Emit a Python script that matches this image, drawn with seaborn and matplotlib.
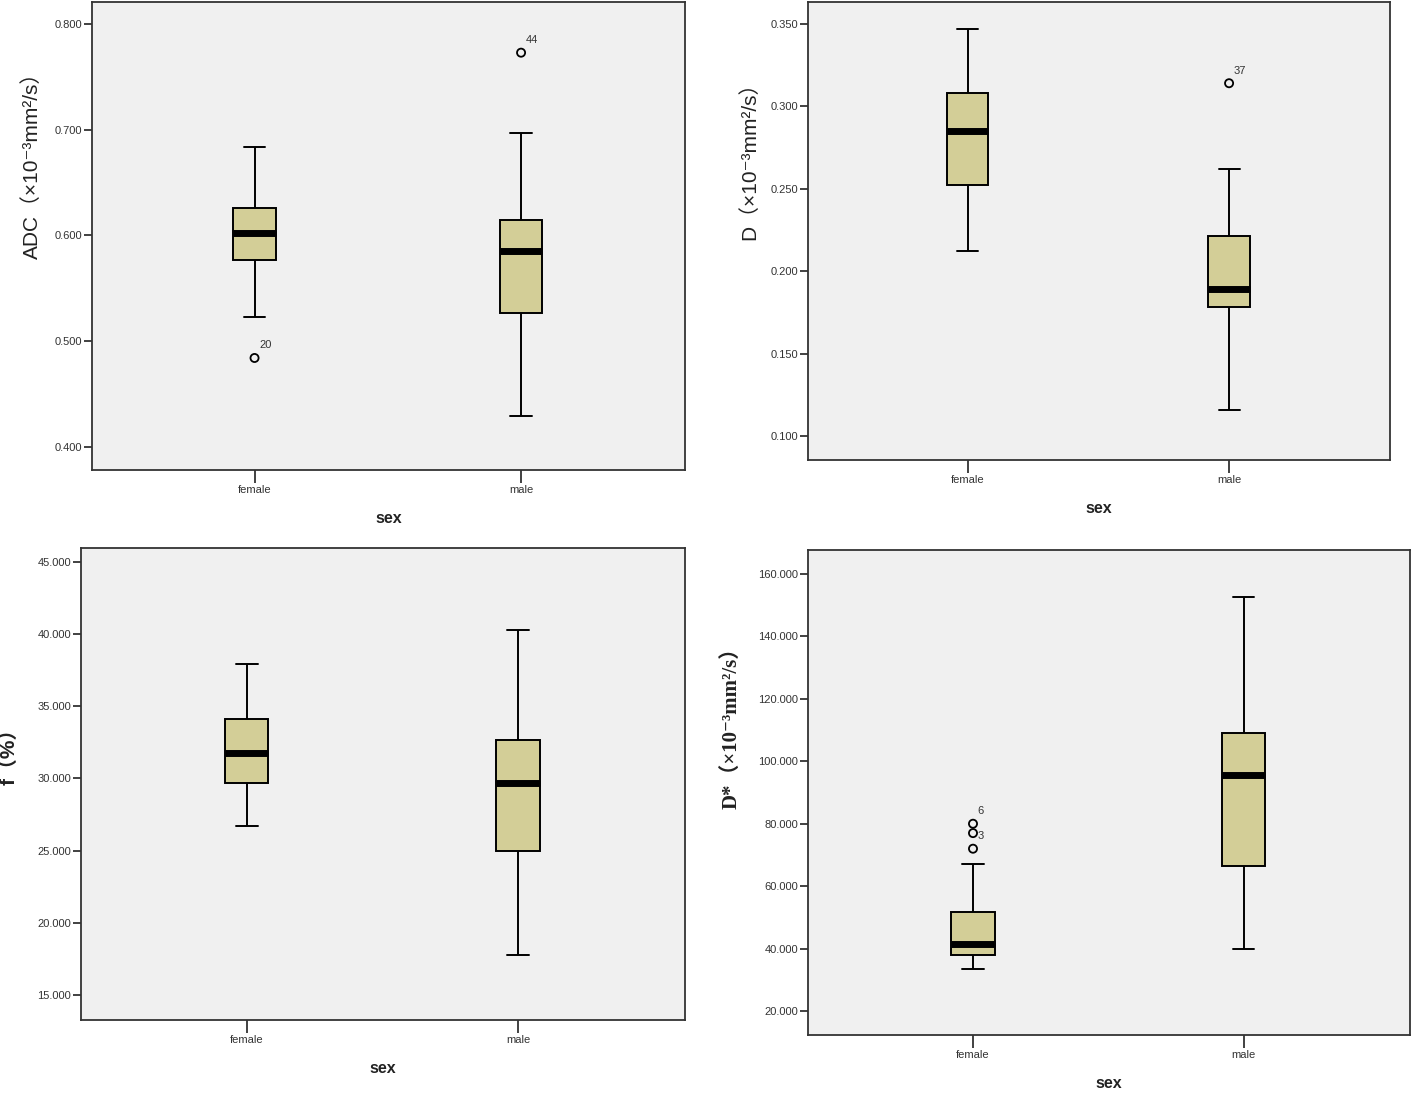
import numpy as np
import pandas as pd
import matplotlib
matplotlib.use("Agg")
import matplotlib.pyplot as plt
from matplotlib.ticker import FormatStrFormatter, MultipleLocator
import seaborn as sns

# categories on the x axis
groups = ["female", "male"]

# box summaries: [whisker low, q1, median, q3, whisker high]
adc_female = [0.523, 0.577, 0.602, 0.626, 0.684]
adc_male = [0.429, 0.527, 0.585, 0.615, 0.697]
adc_out_group = ["female", "male"]
adc_out_value = [0.484, 0.773]
adc_out_label = ["20", "44"]

d_female = [0.212, 0.2525, 0.285, 0.308, 0.347]
d_male = [0.116, 0.178, 0.189, 0.221, 0.262]
d_out_group = ["male"]
d_out_value = [0.314]
d_out_label = ["37"]

f_female = [26.7, 29.7, 31.8, 34.1, 37.9]
f_male = [17.8, 25.0, 29.7, 32.7, 40.3]
f_out_group = []
f_out_value = []
f_out_label = []

dstar_female = [33.6, 38.1, 41.6, 51.6, 67.0]
dstar_male = [40.0, 66.4, 95.5, 109.0, 152.6]
dstar_out_group = ["female", "female", "female"]
dstar_out_value = [80.0, 77.0, 72.0]
dstar_out_label = ["6", "", "3"]

BOX_COLOR = "#d3ce97"
PANEL_BG = "#f0f0f0"
FRAME = "#333333"

sns.set_style("ticks")
plt.rcParams["font.family"] = ["Liberation Sans", "DejaVu Sans", "Noto Sans CJK SC"]

fig = plt.figure(figsize=(14.17, 10.97), dpi=100)


def draw_panel(rect, female, male, out_group, out_value, out_label,
               ylabel, ylim, ystep, label_xy, label_family=None, label_size=14,
               label_weight="normal"):
    ax = fig.add_axes(rect)
    ax.set_facecolor(PANEL_BG)

    df = pd.DataFrame({
        "sex": [groups[0]] * len(female) + [groups[1]] * len(male),
        "value": female + male,
    })
    sns.boxplot(data=df, x="sex", y="value", order=groups, width=0.16,
                whis=(0, 100), color=BOX_COLOR, saturation=1,
                linecolor="black", linewidth=1.4, showfliers=False,
                medianprops=dict(linewidth=5, color="black"), ax=ax)

    # outliers, marked the SPSS way with open circles and case numbers
    for g, v, lab in zip(out_group, out_value, out_label):
        xpos = groups.index(g)
        ax.scatter([xpos], [v], s=34, facecolors="none", edgecolors="black",
                   linewidths=1.3, zorder=5)
        if lab:
            ax.annotate(lab, (xpos, v), xytext=(3.5, 9), textcoords="offset points",
                        ha="left", va="center", fontsize=8, color="#333333")

    ax.set_xlim(-0.61, 1.615)
    ax.set_ylim(*ylim)
    ax.yaxis.set_major_locator(MultipleLocator(ystep))
    ax.yaxis.set_major_formatter(FormatStrFormatter("%.3f"))

    for side in ["left", "right", "top", "bottom"]:
        ax.spines[side].set_visible(True)
        ax.spines[side].set_color(FRAME)
        ax.spines[side].set_linewidth(1.3)

    ax.tick_params(axis="y", direction="out", length=6, width=1.3,
                   labelsize=8, labelcolor="#333333", color=FRAME, pad=1)
    ax.tick_params(axis="x", direction="out", length=9, width=1.3,
                   labelsize=8, labelcolor="#333333", color=FRAME, pad=2)

    ax.set_xlabel("sex", fontsize=11.5, fontweight="bold", color="#222222", labelpad=11)
    kw = dict(fontsize=label_size, color="#222222", fontweight=label_weight)
    if label_family:
        kw["family"] = label_family
    ax.set_ylabel(ylabel, **kw)
    ax.yaxis.set_label_coords(*label_xy)
    return ax


draw_panel([0.0649, 0.5716, 0.4185, 0.4266], adc_female, adc_male,
           adc_out_group, adc_out_value, adc_out_label,
           "ADC（×10⁻³mm²/s）", (0.378, 0.821), 0.1, (-0.085, 0.662), label_size=15)

draw_panel([0.5702, 0.5807, 0.4107, 0.4175], d_female, d_male,
           d_out_group, d_out_value, d_out_label,
           "D（×10⁻³mm²/s）", (0.0854, 0.3633), 0.05, (-0.083, 0.665), label_size=15)

draw_panel([0.0572, 0.0702, 0.4263, 0.4303], f_female, f_male,
           f_out_group, f_out_value, f_out_label,
           "f（%）", (13.27, 45.97), 5, (-0.104, 0.57), label_size=15,
           label_weight="bold")

draw_panel([0.5702, 0.0565, 0.4248, 0.4421], dstar_female, dstar_male,
           dstar_out_group, dstar_out_value, dstar_out_label,
           "D*（×10⁻³mm²/s）", (12.3, 167.7), 20, (-0.11, 0.643),
           label_family=["Liberation Serif", "DejaVu Serif", "Noto Sans CJK SC"],
           label_size=15, label_weight="bold")

fig.savefig("out.png", dpi=100, facecolor="white")
